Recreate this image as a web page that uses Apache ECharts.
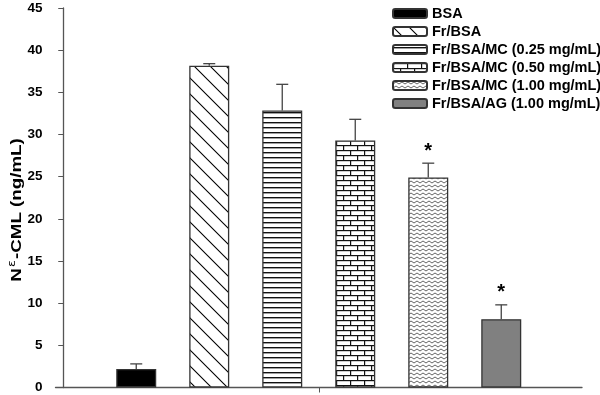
<!DOCTYPE html>
<html>
<head>
<meta charset="utf-8">
<script src="https://cdn.jsdelivr.net/npm/echarts@6/dist/echarts.min.js"></script>
<style>
  html, body { margin: 0; padding: 0; background: #fff; }
  #main { width: 600px; height: 395px; }
</style>
</head>
<body>
<div id="main"></div>
<script>
// data
var groups = ['BSA', 'Fr/BSA', 'Fr/BSA/MC (0.25 mg/mL)', 'Fr/BSA/MC (0.50 mg/mL)', 'Fr/BSA/MC (1.00 mg/mL)', 'Fr/BSA/AG (1.00 mg/mL)'];
var positions = [1, 2, 3, 4, 5, 6];
var means = [2.2, 38.15, 32.85, 29.3, 24.9, 8.1];
var errors = [0.6, 0.25, 3.1, 2.5, 1.7, 1.7];
var marks = ['', '', '', '', '*', '*'];

function makeTile(w, h, draw) {
    var c = document.createElement('canvas');
    c.width = w;
    c.height = h;
    var ctx = c.getContext('2d');
    ctx.fillStyle = '#fff';
    ctx.fillRect(0, 0, w, h);
    draw(ctx, w, h);
    return { image: c, repeat: 'repeat' };
}

function diagTile() {
    return makeTile(16, 16, function (ctx, w, h) {
        ctx.strokeStyle = '#000';
        ctx.lineWidth = 1.1;
        ctx.beginPath();
        ctx.moveTo(-2, -2); ctx.lineTo(w + 2, h + 2);
        ctx.moveTo(-2, h - 2); ctx.lineTo(2, h + 2);
        ctx.moveTo(w - 2, -2); ctx.lineTo(w + 2, 2);
        ctx.stroke();
    });
}

function hlineTile() {
    return makeTile(8, 5, function (ctx, w, h) {
        ctx.fillStyle = '#111';
        ctx.fillRect(0, 2, w, 1.4);
    });
}

function brickTile() {
    return makeTile(14, 10, function (ctx, w, h) {
        ctx.fillStyle = '#111';
        ctx.fillRect(0, 0, w, 1.2);
        ctx.fillRect(0, 5, w, 1.2);
        ctx.fillRect(0, 0, 1.2, 5);
        ctx.fillRect(7, 5, 1.2, 5);
    });
}

function zigzagTile() {
    return makeTile(6, 4, function (ctx, w, h) {
        ctx.strokeStyle = '#666';
        ctx.lineWidth = 1;
        ctx.beginPath();
        ctx.moveTo(0, 3);
        ctx.lineTo(3, 1);
        ctx.lineTo(6, 3);
        ctx.stroke();
    });
}

function initchart() {
    var myChart = echarts.init(document.getElementById('main'));
    var fills = ['#000', diagTile(), hlineTile(), brickTile(), zigzagTile(), '#808080'];

    var series = [];
    for (var i = 0; i < groups.length; i++) {
        series.push({
            name: groups[i],
            type: 'bar',
            barWidth: 40,
            barGap: '-100%',
            data: [[positions[i], means[i]]],
            itemStyle: {
                color: fills[i],
                borderColor: '#333',
                borderWidth: 1.3
            },
            z: 2
        });
    }

    var errData = [];
    for (var j = 0; j < groups.length; j++) {
        errData.push([positions[j], means[j], means[j] + errors[j], marks[j]]);
    }

    series.push({
        type: 'custom',
        name: 'err',
        z: 3,
        data: errData,
        renderItem: function (params, api) {
            var base = api.coord([api.value(0), api.value(1)]);
            var top = api.coord([api.value(0), api.value(2)]);
            var cap = 6;
            var style = { stroke: '#444', lineWidth: 1.3 };
            var children = [
                { type: 'line', shape: { x1: base[0], y1: base[1], x2: top[0], y2: top[1] }, style: style },
                { type: 'line', shape: { x1: top[0] - cap, y1: top[1], x2: top[0] + cap, y2: top[1] }, style: style }
            ];
            var mark = errData[params.dataIndex][3];
            if (mark) {
                children.push({
                    type: 'text',
                    style: {
                        text: mark,
                        x: top[0],
                        y: top[1] - 2,
                        align: 'center',
                        verticalAlign: 'bottom',
                        font: 'bold 20px "Liberation Sans", Arial, sans-serif',
                        fill: '#000'
                    }
                });
            }
            return { type: 'group', children: children };
        }
    });

    var option = {
        animation: false,
        textStyle: { fontFamily: '"Liberation Sans", Arial, sans-serif' },
        grid: { left: 55.5, right: 18, top: 8, bottom: 7.5 },
        legend: {
            orient: 'vertical',
            left: 387,
            top: 1,
            itemWidth: 34,
            itemHeight: 9,
            itemGap: 3,
            data: groups,
            textStyle: { fontSize: 14.5, fontWeight: 'bold', color: '#000' }
        },
        // y axis title, stretched along its length like the original
        graphic: [{
            type: 'text',
            x: 17,
            y: 210,
            rotation: Math.PI / 2,
            scaleX: 1.25,
            style: {
                text: '{n|N}{s|ε}{n|-CML (ng/mL)}',
                align: 'center',
                verticalAlign: 'middle',
                rich: {
                    n: { fontSize: 15, fontWeight: 'bold', fill: '#000', fontFamily: '"Liberation Sans", Arial, sans-serif' },
                    s: { fontSize: 10, fill: '#000', fontFamily: '"DejaVu Sans", sans-serif', verticalAlign: 'top', padding: [0, 1, 9, 1] }
                }
            }
        }],
        xAxis: {
            type: 'value',
            min: -0.106,
            max: 7.106,
            axisLine: { show: true, lineStyle: { color: '#555', width: 1.3 } },
            axisTick: { show: true, customValues: [3.5], length: 5, lineStyle: { color: '#555' } },
            axisLabel: { show: false },
            splitLine: { show: false }
        },
        yAxis: {
            type: 'value',
            min: 0,
            max: 45,
            interval: 5,
            axisLine: { show: true, lineStyle: { color: '#555', width: 1.3 } },
            axisTick: { show: true, length: 5, lineStyle: { color: '#555' } },
            axisLabel: { margin: 13, fontSize: 13.5, fontWeight: 'bold', color: '#000' },
            splitLine: { show: false }
        },
        series: series
    };
    myChart.setOption(option);
}

initchart();
</script>
</body>
</html>
